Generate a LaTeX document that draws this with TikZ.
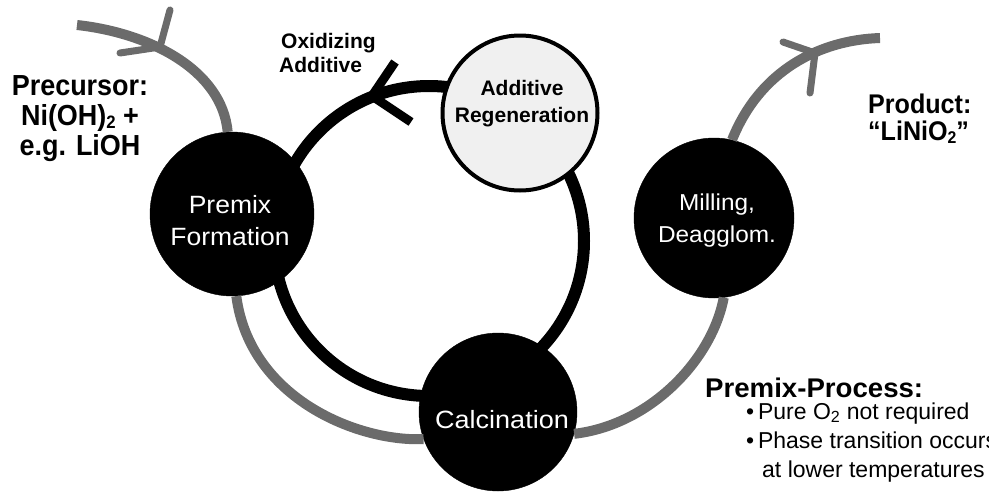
\documentclass[tikz,border=0pt]{standalone}
\usepackage{fontspec}
\setmainfont{Liberation Sans}
\begin{document}
\begin{tikzpicture}[x=1pt,y=-1pt]
\tikzset{
  feed/.style={draw=black!58, line width=10pt},
  feedarm/.style={draw=black!58, line width=7pt, line cap=round},
  ring/.style={draw=black, line width=12pt},
  ringarm/.style={draw=black, line width=9pt},
  blackdisc/.style={circle, fill=black, draw=black, minimum size=#1, inner sep=0pt},
  lightdisc/.style={circle, fill=black!6, draw=black, line width=4pt, minimum size=#1, inner sep=0pt},
  whitetxt/.style={text=white, align=center, font=\fontsize{25}{32}\selectfont, transform shape, xscale=1.06},
  bigbold/.style={inner sep=0pt, font=\fontsize{29}{30}\selectfont\bfseries, transform shape, xscale=0.93},
  bodytxt/.style={inner sep=0pt, font=\fontsize{23}{28}\selectfont},
}
\useasboundingbox (0,0) rectangle (989,491);

% ring (cycle of the oxidizing additive)
\coordinate (ringc) at (429,241);
\draw[ring] (ringc) circle[radius=155pt];
\coordinate (rtip) at (372,96);
\draw[ringarm] (395,62) -- (rtip) -- (411,122);

% discs
\node[blackdisc=164pt] (premix) at (232,214) {};
\node[blackdisc=160pt] (mill) at (714,218) {};
\node[blackdisc=158pt] (calc) at (498,412) {};
\node[lightdisc=155pt] (regen) at (520,113) {};

% feed paths
\coordinate (pstart) at (77,25);
\coordinate (pend) at (880,38);
\draw[feed] (pstart) .. controls (150,33) and (222,70) .. (premix.93);
\draw[feed] (premix.-87) .. controls (250,400) and (360,442) .. (calc.200);
\draw[feed] (calc.-16) .. controls (650,425) and (712,360) .. (mill.-83);
\draw[feed] (mill.77) .. controls (760,70) and (820,40) .. (pend);

% arrow heads (open chevrons)
\coordinate (ptip) at (160,47);
\draw[feedarm] (170,10) -- (ptip) -- (120,53);
\coordinate (qtip) at (815,53);
\draw[feedarm] (783,42) -- (qtip) -- (810,93);

% disc texts
\node[font=\fontsize{21}{27}\selectfont\bfseries, align=center] (regentxt) at (522,104) {Additive\\Regeneration};
\node[whitetxt] (premixtxt) at (230,221) {Premix\\Formation};
\node[whitetxt, font=\fontsize{23}{32}\selectfont] (milltxt) at (717,221) {Milling,\\Deagglom.};
\node[whitetxt, xscale=1.02] (calctxt) at (502,420) {Calcination};

% labels
\node[bigbold, anchor=base] (prec1) at (80,95) {Precursor:};
\node[bigbold, anchor=base] (prec2) at (80,125) {Ni(OH)\raisebox{-0.25ex}{\fontsize{18}{18}\selectfont 2} +};
\node[bigbold, anchor=base] (prec3) at (80,155) {e.g. LiOH};

\node[inner sep=0pt, font=\fontsize{21}{25}\selectfont\bfseries, anchor=base west] (ox1) at (281,48) {Oxidizing};
\node[inner sep=0pt, font=\fontsize{21}{25}\selectfont\bfseries, anchor=base west] (ox2) at (279,72) {Additive};

\node[bigbold, font=\fontsize{27}{30}\selectfont\bfseries, anchor=base west] (prod1) at (868,113) {Product:};
\node[bigbold, font=\fontsize{27}{30}\selectfont\bfseries, anchor=base west] (prod2) at (868,140) {“LiNiO\raisebox{-0.25ex}{\fontsize{17}{17}\selectfont 2}”};

\node[bigbold, font=\fontsize{27}{30}\selectfont\bfseries, xscale=1.1, anchor=base west] (pp) at (705,397) {Premix-Process:};
\node[bodytxt, anchor=base west] (pp1) at (746,419) {•\,Pure O\textsubscript{2} not required};
\node[bodytxt, anchor=base west] (pp2) at (746,448) {•\,Phase transition occurs};
\node[bodytxt, anchor=base west] (pp3) at (762,477) {at lower temperatures};
\end{tikzpicture}
\end{document}
